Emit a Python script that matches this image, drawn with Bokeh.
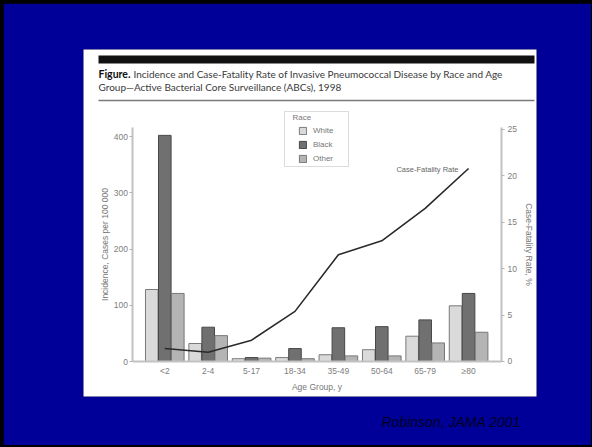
from bokeh.plotting import figure
from bokeh.models import (Range1d, LinearAxis, FixedTicker, BoxAnnotation, Title,
                          Label, Legend, LegendItem, ColumnDataSource)
from bokeh.transform import dodge
from bokeh.embed import file_html
from bokeh.resources import INLINE

# ---------------- data ----------------
age_groups = ["<2", "2-4", "5-17", "18-34", "35-49", "50-64", "65-79", "≥80"]
white = [128, 32, 5, 7, 12, 21, 45, 99]
black = [402, 61, 7, 23, 60, 62, 74, 121]
other = [121, 46, 6, 5, 10, 10, 33, 52]
case_fatality = [1.4, 1.0, 2.3, 5.4, 11.5, 13.0, 16.5, 20.8]
left_ticks = [0, 100, 200, 300, 400]
right_ticks = [0, 5, 10, 15, 20, 25]
race_labels = ["White", "Black", "Other"]
x_pos = list(range(len(age_groups)))

# ---------------- geometry (page px) ----------------
PAGE_W, PAGE_H = 592, 447
M_TOP, M_RIGHT, M_BOTTOM, M_LEFT = 3, 1, 2, 3        # black slide border
W, H = PAGE_W - M_LEFT - M_RIGHT, PAGE_H - M_TOP - M_BOTTOM
PANEL_L, PANEL_R, PANEL_T, PANEL_B = 83, 536, 49, 396  # white panel = plot frame


def sx(px):
    return px - PANEL_L


def sy(py):
    return PANEL_B - py


p = figure(width=W, height=H, title=None,
           x_range=Range1d(-1.873, 8.565),
           y_range=Range1d(-62.22, 554.67),
           output_backend="svg", toolbar_location=None,
           margin=(M_TOP, M_RIGHT, M_BOTTOM, M_LEFT),
           min_border_left=PANEL_L - M_LEFT, min_border_right=PAGE_W - M_RIGHT - PANEL_R,
           min_border_top=PANEL_T - M_TOP, min_border_bottom=PAGE_H - M_BOTTOM - PANEL_B)
p.border_fill_color = "#000099"
p.background_fill_color = "#ffffff"
p.outline_line_color = None
p.xgrid.visible = False
p.ygrid.visible = False
p.extra_y_ranges = {"cfr": Range1d(-3.772, 33.62)}


def box(x0, x1, y0, y1, **kw):
    return BoxAnnotation(left=sx(x0), right=sx(x1), top=sy(y0), bottom=sy(y1),
                         left_units="screen", right_units="screen",
                         top_units="screen", bottom_units="screen", **kw)


# title rules
p.add_layout(box(98, 534, 55, 63, fill_color="#111111", fill_alpha=1, line_color=None, level="underlay"))
p.add_layout(box(98, 534, 99.3, 100.8, fill_color="#7a7a7a", fill_alpha=1, line_color=None, level="underlay"))


def style_axis(ax):
    ax.axis_line_color = "#c2c2c2"
    ax.axis_line_width = 2
    ax.major_tick_line_color = "#b5b5b5"
    ax.major_tick_line_width = 1
    ax.major_tick_out = 3
    ax.major_tick_in = 0
    ax.minor_tick_line_color = None
    ax.major_label_text_font = "Liberation Sans"
    ax.major_label_text_font_size = "8.5px"
    ax.major_label_text_color = "#7d7d7d"
    ax.axis_label_text_font = "Liberation Sans"
    ax.axis_label_text_font_size = "8.5px"
    ax.axis_label_text_color = "#777777"
    ax.axis_label_text_font_style = "normal"


yl = p.yaxis[0]
style_axis(yl)
yl.ticker = FixedTicker(ticks=left_ticks)
yl.axis_label = "Incidence, Cases per 100 000"
yl.major_label_standoff = 2
yl.axis_label_standoff = 0
yl.fixed_location = -0.733
yl.bounds = (0, 416)

yr = LinearAxis(y_range_name="cfr", ticker=FixedTicker(ticks=right_ticks),
                axis_label="Case-Fatality Rate, %")
style_axis(yr)
yr.major_label_standoff = 3
yr.axis_label_standoff = 4
yr.fixed_location = 7.758
yr.bounds = (0, 25.2)
p.add_layout(yr, "right")

xa = p.xaxis[0]
style_axis(xa)
xa.ticker = FixedTicker(ticks=x_pos)
xa.major_label_overrides = {i: g for i, g in zip(x_pos, age_groups)}
xa.major_tick_line_color = None
xa.major_tick_out = 0
xa.axis_label = "Age Group, y"
xa.major_label_standoff = 4
xa.axis_label_standoff = 3
xa.fixed_location = 0
xa.bounds = (-0.733, 7.758)

src = ColumnDataSource(dict(x=x_pos, white=white, black=black, other=other,
                            cfr=case_fatality))

bw = 0.29
r_w = p.vbar(x=dodge("x", -0.3), top="white", width=bw, source=src,
             fill_color="#dadada", line_color="#7a7a7a", line_width=1)
r_b = p.vbar(x=dodge("x", 0.0), top="black", width=bw, source=src,
             fill_color="#707070", line_color="#474747", line_width=1)
r_o = p.vbar(x=dodge("x", 0.3), top="other", width=bw, source=src,
             fill_color="#b4b4b4", line_color="#777777", line_width=1)
p.line(x="x", y="cfr", source=src, y_range_name="cfr", line_color="#2a2a2a", line_width=1.6)

# legend box
p.add_layout(box(284, 348, 111, 166, fill_color="#ffffff", fill_alpha=1,
                 line_color="#8a8a8a", line_width=1))
p.add_layout(Label(x=sx(292), y=sy(116.5), x_units="screen", y_units="screen", text="Race",
                   text_font="Liberation Sans", text_font_size="8px", text_color="#777777",
                   text_baseline="middle", text_align="left"))
legend = Legend(items=[LegendItem(label=race_labels[0], renderers=[r_w]),
                       LegendItem(label=race_labels[1], renderers=[r_b]),
                       LegendItem(label=race_labels[2], renderers=[r_o])],
                location=(sx(298), sy(162.5)), padding=0, margin=0,
                border_line_color=None, background_fill_alpha=0,
                glyph_width=9, glyph_height=9, label_standoff=6, spacing=5,
                label_height=9, label_text_font="Liberation Sans", label_text_font_size="8px",
                label_text_color="#777777")
p.add_layout(legend)

p.add_layout(Label(x=sx(458), y=sy(169), x_units="screen", y_units="screen",
                   text="Case-Fatality Rate", text_font="Liberation Sans", text_font_size="7.5px",
                   text_color="#666666", text_baseline="middle", text_align="right"))

# figure caption
p.add_layout(Label(x=sx(98), y=sy(73), x_units="screen", y_units="screen", text="Figure.",
                   text_font="Lato", text_font_style="bold", text_font_size="10.5px",
                   text_color="#111111", text_baseline="middle", text_align="left"))
p.add_layout(Label(x=sx(133), y=sy(73), x_units="screen", y_units="screen",
                   text="Incidence and Case-Fatality Rate of Invasive Pneumococcal Disease by Race and Age",
                   text_font="Lato", text_font_size="10px",
                   text_color="#3a3a3a", text_baseline="middle", text_align="left"))
p.add_layout(Label(x=sx(98), y=sy(86), x_units="screen", y_units="screen",
                   text="Group—Active Bacterial Core Surveillance (ABCs), 1998",
                   text_font="Lato", text_font_size="10px",
                   text_color="#3a3a3a", text_baseline="middle", text_align="left"))

# citation (in the blue border area, below the panel)
p.add_layout(Title(text="Robinson, JAMA 2001", align="left", offset=298,
                   text_font="Liberation Sans", text_font_style="italic",
                   text_font_size="14px", text_color="#000022", standoff=30), "below")

html = file_html(p, INLINE, title="Invasive Pneumococcal Disease")
html = html.replace("</head>",
                    "<style>html,body{margin:0;padding:0;overflow:hidden;background:#000000;}</style></head>", 1)
open("out.html", "w").write(html)
